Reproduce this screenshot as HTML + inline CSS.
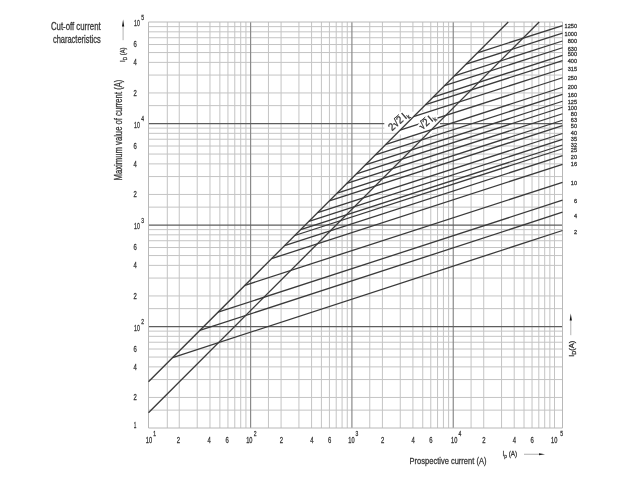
<!DOCTYPE html>
<html><head><meta charset="utf-8"><style>
html,body{margin:0;padding:0;background:#fff;}
svg{display:block;}
text{font-family:"Liberation Sans",sans-serif;stroke:#3a3a3a;stroke-width:0.3px;}
</style></head><body>
<svg width="640" height="480" viewBox="0 0 640 480">
<rect width="640" height="480" fill="#fff"/>
<line x1="167.30" y1="22.00" x2="167.30" y2="428.00" stroke="#c4c4c4" stroke-width="1.0"/>
<line x1="179.24" y1="22.00" x2="179.24" y2="428.00" stroke="#c4c4c4" stroke-width="1.0"/>
<line x1="197.21" y1="22.00" x2="197.21" y2="428.00" stroke="#c4c4c4" stroke-width="1.0"/>
<line x1="209.97" y1="22.00" x2="209.97" y2="428.00" stroke="#c4c4c4" stroke-width="1.0"/>
<line x1="219.86" y1="22.00" x2="219.86" y2="428.00" stroke="#c4c4c4" stroke-width="1.0"/>
<line x1="227.95" y1="22.00" x2="227.95" y2="428.00" stroke="#c4c4c4" stroke-width="1.0"/>
<line x1="234.78" y1="22.00" x2="234.78" y2="428.00" stroke="#c4c4c4" stroke-width="1.0"/>
<line x1="240.71" y1="22.00" x2="240.71" y2="428.00" stroke="#c4c4c4" stroke-width="1.0"/>
<line x1="245.93" y1="22.00" x2="245.93" y2="428.00" stroke="#c4c4c4" stroke-width="1.0"/>
<line x1="268.44" y1="22.00" x2="268.44" y2="428.00" stroke="#c4c4c4" stroke-width="1.0"/>
<line x1="281.09" y1="22.00" x2="281.09" y2="428.00" stroke="#c4c4c4" stroke-width="1.0"/>
<line x1="298.93" y1="22.00" x2="298.93" y2="428.00" stroke="#c4c4c4" stroke-width="1.0"/>
<line x1="311.59" y1="22.00" x2="311.59" y2="428.00" stroke="#c4c4c4" stroke-width="1.0"/>
<line x1="321.41" y1="22.00" x2="321.41" y2="428.00" stroke="#c4c4c4" stroke-width="1.0"/>
<line x1="329.43" y1="22.00" x2="329.43" y2="428.00" stroke="#c4c4c4" stroke-width="1.0"/>
<line x1="336.21" y1="22.00" x2="336.21" y2="428.00" stroke="#c4c4c4" stroke-width="1.0"/>
<line x1="342.08" y1="22.00" x2="342.08" y2="428.00" stroke="#c4c4c4" stroke-width="1.0"/>
<line x1="347.26" y1="22.00" x2="347.26" y2="428.00" stroke="#c4c4c4" stroke-width="1.0"/>
<line x1="369.75" y1="22.00" x2="369.75" y2="428.00" stroke="#c4c4c4" stroke-width="1.0"/>
<line x1="382.41" y1="22.00" x2="382.41" y2="428.00" stroke="#c4c4c4" stroke-width="1.0"/>
<line x1="400.26" y1="22.00" x2="400.26" y2="428.00" stroke="#c4c4c4" stroke-width="1.0"/>
<line x1="412.92" y1="22.00" x2="412.92" y2="428.00" stroke="#c4c4c4" stroke-width="1.0"/>
<line x1="422.74" y1="22.00" x2="422.74" y2="428.00" stroke="#c4c4c4" stroke-width="1.0"/>
<line x1="430.77" y1="22.00" x2="430.77" y2="428.00" stroke="#c4c4c4" stroke-width="1.0"/>
<line x1="437.55" y1="22.00" x2="437.55" y2="428.00" stroke="#c4c4c4" stroke-width="1.0"/>
<line x1="443.43" y1="22.00" x2="443.43" y2="428.00" stroke="#c4c4c4" stroke-width="1.0"/>
<line x1="448.61" y1="22.00" x2="448.61" y2="428.00" stroke="#c4c4c4" stroke-width="1.0"/>
<line x1="471.08" y1="22.00" x2="471.08" y2="428.00" stroke="#c4c4c4" stroke-width="1.0"/>
<line x1="483.73" y1="22.00" x2="483.73" y2="428.00" stroke="#c4c4c4" stroke-width="1.0"/>
<line x1="501.56" y1="22.00" x2="501.56" y2="428.00" stroke="#c4c4c4" stroke-width="1.0"/>
<line x1="514.21" y1="22.00" x2="514.21" y2="428.00" stroke="#c4c4c4" stroke-width="1.0"/>
<line x1="524.02" y1="22.00" x2="524.02" y2="428.00" stroke="#c4c4c4" stroke-width="1.0"/>
<line x1="532.04" y1="22.00" x2="532.04" y2="428.00" stroke="#c4c4c4" stroke-width="1.0"/>
<line x1="538.82" y1="22.00" x2="538.82" y2="428.00" stroke="#c4c4c4" stroke-width="1.0"/>
<line x1="544.69" y1="22.00" x2="544.69" y2="428.00" stroke="#c4c4c4" stroke-width="1.0"/>
<line x1="549.87" y1="22.00" x2="549.87" y2="428.00" stroke="#c4c4c4" stroke-width="1.0"/>
<line x1="148.50" y1="410.13" x2="562.50" y2="410.13" stroke="#c4c4c4" stroke-width="1.0"/>
<line x1="148.50" y1="397.45" x2="562.50" y2="397.45" stroke="#c4c4c4" stroke-width="1.0"/>
<line x1="148.50" y1="379.57" x2="562.50" y2="379.57" stroke="#c4c4c4" stroke-width="1.0"/>
<line x1="148.50" y1="366.89" x2="562.50" y2="366.89" stroke="#c4c4c4" stroke-width="1.0"/>
<line x1="148.50" y1="357.05" x2="562.50" y2="357.05" stroke="#c4c4c4" stroke-width="1.0"/>
<line x1="148.50" y1="349.02" x2="562.50" y2="349.02" stroke="#c4c4c4" stroke-width="1.0"/>
<line x1="148.50" y1="342.22" x2="562.50" y2="342.22" stroke="#c4c4c4" stroke-width="1.0"/>
<line x1="148.50" y1="336.34" x2="562.50" y2="336.34" stroke="#c4c4c4" stroke-width="1.0"/>
<line x1="148.50" y1="331.14" x2="562.50" y2="331.14" stroke="#c4c4c4" stroke-width="1.0"/>
<line x1="148.50" y1="308.63" x2="562.50" y2="308.63" stroke="#c4c4c4" stroke-width="1.0"/>
<line x1="148.50" y1="295.95" x2="562.50" y2="295.95" stroke="#c4c4c4" stroke-width="1.0"/>
<line x1="148.50" y1="278.07" x2="562.50" y2="278.07" stroke="#c4c4c4" stroke-width="1.0"/>
<line x1="148.50" y1="265.39" x2="562.50" y2="265.39" stroke="#c4c4c4" stroke-width="1.0"/>
<line x1="148.50" y1="255.55" x2="562.50" y2="255.55" stroke="#c4c4c4" stroke-width="1.0"/>
<line x1="148.50" y1="247.52" x2="562.50" y2="247.52" stroke="#c4c4c4" stroke-width="1.0"/>
<line x1="148.50" y1="240.72" x2="562.50" y2="240.72" stroke="#c4c4c4" stroke-width="1.0"/>
<line x1="148.50" y1="234.84" x2="562.50" y2="234.84" stroke="#c4c4c4" stroke-width="1.0"/>
<line x1="148.50" y1="229.64" x2="562.50" y2="229.64" stroke="#c4c4c4" stroke-width="1.0"/>
<line x1="148.50" y1="207.13" x2="562.50" y2="207.13" stroke="#c4c4c4" stroke-width="1.0"/>
<line x1="148.50" y1="194.45" x2="562.50" y2="194.45" stroke="#c4c4c4" stroke-width="1.0"/>
<line x1="148.50" y1="176.57" x2="562.50" y2="176.57" stroke="#c4c4c4" stroke-width="1.0"/>
<line x1="148.50" y1="163.89" x2="562.50" y2="163.89" stroke="#c4c4c4" stroke-width="1.0"/>
<line x1="148.50" y1="154.05" x2="562.50" y2="154.05" stroke="#c4c4c4" stroke-width="1.0"/>
<line x1="148.50" y1="146.02" x2="562.50" y2="146.02" stroke="#c4c4c4" stroke-width="1.0"/>
<line x1="148.50" y1="139.22" x2="562.50" y2="139.22" stroke="#c4c4c4" stroke-width="1.0"/>
<line x1="148.50" y1="133.34" x2="562.50" y2="133.34" stroke="#c4c4c4" stroke-width="1.0"/>
<line x1="148.50" y1="128.14" x2="562.50" y2="128.14" stroke="#c4c4c4" stroke-width="1.0"/>
<line x1="148.50" y1="105.63" x2="562.50" y2="105.63" stroke="#c4c4c4" stroke-width="1.0"/>
<line x1="148.50" y1="92.95" x2="562.50" y2="92.95" stroke="#c4c4c4" stroke-width="1.0"/>
<line x1="148.50" y1="75.07" x2="562.50" y2="75.07" stroke="#c4c4c4" stroke-width="1.0"/>
<line x1="148.50" y1="62.39" x2="562.50" y2="62.39" stroke="#c4c4c4" stroke-width="1.0"/>
<line x1="148.50" y1="52.55" x2="562.50" y2="52.55" stroke="#c4c4c4" stroke-width="1.0"/>
<line x1="148.50" y1="44.52" x2="562.50" y2="44.52" stroke="#c4c4c4" stroke-width="1.0"/>
<line x1="148.50" y1="37.72" x2="562.50" y2="37.72" stroke="#c4c4c4" stroke-width="1.0"/>
<line x1="148.50" y1="31.84" x2="562.50" y2="31.84" stroke="#c4c4c4" stroke-width="1.0"/>
<line x1="148.50" y1="26.64" x2="562.50" y2="26.64" stroke="#c4c4c4" stroke-width="1.0"/>
<line x1="554.50" y1="22.00" x2="554.50" y2="428.00" stroke="#c4c4c4" stroke-width="1.0"/>
<line x1="250.60" y1="22.00" x2="250.60" y2="428.00" stroke="#8a8a8a" stroke-width="1.2"/>
<line x1="351.90" y1="22.00" x2="351.90" y2="428.00" stroke="#8a8a8a" stroke-width="1.2"/>
<line x1="453.25" y1="22.00" x2="453.25" y2="428.00" stroke="#8a8a8a" stroke-width="1.2"/>
<line x1="148.50" y1="326.50" x2="562.50" y2="326.50" stroke="#5e5e5e" stroke-width="1.25"/>
<line x1="148.50" y1="225.00" x2="562.50" y2="225.00" stroke="#5e5e5e" stroke-width="1.25"/>
<line x1="148.50" y1="123.50" x2="562.50" y2="123.50" stroke="#5e5e5e" stroke-width="1.25"/>
<line x1="148.50" y1="22.00" x2="148.50" y2="428.00" stroke="#b8b8b8" stroke-width="1.0"/>
<line x1="562.50" y1="22.00" x2="562.50" y2="428.00" stroke="#b8b8b8" stroke-width="1.0"/>
<line x1="148.50" y1="22.00" x2="562.50" y2="22.00" stroke="#b8b8b8" stroke-width="1.0"/>
<line x1="148.50" y1="428.00" x2="562.50" y2="428.00" stroke="#b8b8b8" stroke-width="1.0"/>

<polygon fill="#fff" points="384.3,120.5 394,111.8 433,111.8 440,116.5 440,124.5 431,134.6 397,134.6 399.5,130.8 384.3,130.8"/>

<g stroke="#3a3a3a" stroke-width="1.3"><line x1="477.43" y1="52.82" x2="562.50" y2="25.60"/>
<line x1="466.11" y1="64.14" x2="562.50" y2="33.10"/>
<line x1="454.46" y1="75.79" x2="562.50" y2="41.00"/>
<line x1="444.51" y1="85.74" x2="562.50" y2="47.75"/>
<line x1="433.22" y1="97.03" x2="562.50" y2="55.40"/>
<line x1="425.55" y1="104.70" x2="562.50" y2="60.60"/>
<line x1="413.53" y1="116.72" x2="562.50" y2="68.75"/>
<line x1="400.02" y1="130.23" x2="562.50" y2="77.75"/>
<line x1="385.99" y1="144.26" x2="562.50" y2="87.25"/>
<line x1="375.42" y1="154.83" x2="562.50" y2="94.40"/>
<line x1="365.31" y1="164.94" x2="562.50" y2="101.25"/>
<line x1="356.44" y1="173.81" x2="562.50" y2="107.25"/>
<line x1="346.84" y1="183.41" x2="562.50" y2="113.75"/>
<line x1="337.24" y1="193.01" x2="562.50" y2="120.25"/>
<line x1="329.34" y1="200.91" x2="562.50" y2="125.60"/>
<line x1="317.67" y1="212.58" x2="562.50" y2="133.50"/>
<line x1="308.95" y1="221.30" x2="562.50" y2="139.40"/>
<line x1="300.68" y1="229.57" x2="562.50" y2="145.00"/>
<line x1="294.75" y1="235.50" x2="562.50" y2="148.75"/>
<line x1="284.62" y1="245.63" x2="562.50" y2="155.60"/>
<line x1="271.60" y1="258.65" x2="562.50" y2="164.40"/>
<line x1="244.97" y1="285.28" x2="562.50" y2="182.40"/>
<line x1="218.13" y1="312.12" x2="562.50" y2="200.20"/>
<line x1="199.81" y1="330.44" x2="562.50" y2="212.20"/>
<line x1="172.66" y1="357.59" x2="562.50" y2="230.50"/></g>

<polygon fill="#fff" points="417.3,125.6 426,115.2 437.3,117.2 437.8,121 430,129 420,129.2"/>

<g stroke="#3a3a3a" stroke-width="1.3"><line x1="148.5" y1="381.75" x2="508.25" y2="22"/><line x1="148.5" y1="412.70" x2="539.20" y2="22"/></g>
<g transform="translate(392 131.2) rotate(-41) scale(0.9 1)" fill="#333" font-size="10.6"><text x="0.00" y="0">2</text><text x="5.89" y="0">√</text><text x="11.71" y="0">2</text><text x="19.73" y="0">I</text><text x="22.91" y="2.12" font-size="6.36">k</text><line x1="10.88" y1="-8.06" x2="18.07" y2="-8.06" stroke="#333" stroke-width="0.9"/></g>
<g transform="translate(422.3 130.3) rotate(-41) scale(0.9 1)" fill="#333" font-size="10.6"><text x="0.00" y="0">√</text><text x="5.82" y="0">2</text><text x="13.83" y="0">I</text><text x="17.01" y="2.12" font-size="6.36">k</text><line x1="4.98" y1="-8.06" x2="12.18" y2="-8.06" stroke="#333" stroke-width="0.9"/></g>
<g fill="#333"><text x="577.00" y="27.80" font-size="6.2" text-anchor="end" textLength="12.40" lengthAdjust="spacingAndGlyphs">1250</text>
<text x="577.00" y="35.60" font-size="6.2" text-anchor="end" textLength="12.40" lengthAdjust="spacingAndGlyphs">1000</text>
<text x="577.00" y="43.20" font-size="6.2" text-anchor="end" textLength="9.30" lengthAdjust="spacingAndGlyphs">800</text>
<text x="577.00" y="50.70" font-size="6.2" text-anchor="end" textLength="9.30" lengthAdjust="spacingAndGlyphs">630</text>
<text x="577.00" y="56.40" font-size="6.2" text-anchor="end" textLength="9.30" lengthAdjust="spacingAndGlyphs">500</text>
<text x="577.00" y="62.60" font-size="6.2" text-anchor="end" textLength="9.30" lengthAdjust="spacingAndGlyphs">400</text>
<text x="577.00" y="71.20" font-size="6.2" text-anchor="end" textLength="9.30" lengthAdjust="spacingAndGlyphs">315</text>
<text x="577.00" y="80.20" font-size="6.2" text-anchor="end" textLength="9.30" lengthAdjust="spacingAndGlyphs">250</text>
<text x="577.00" y="89.20" font-size="6.2" text-anchor="end" textLength="9.30" lengthAdjust="spacingAndGlyphs">200</text>
<text x="577.00" y="97.00" font-size="6.2" text-anchor="end" textLength="9.30" lengthAdjust="spacingAndGlyphs">160</text>
<text x="577.00" y="103.80" font-size="6.2" text-anchor="end" textLength="9.30" lengthAdjust="spacingAndGlyphs">125</text>
<text x="577.00" y="109.60" font-size="6.2" text-anchor="end" textLength="9.30" lengthAdjust="spacingAndGlyphs">100</text>
<text x="577.00" y="115.95" font-size="6.2" text-anchor="end" textLength="6.20" lengthAdjust="spacingAndGlyphs">80</text>
<text x="577.00" y="121.95" font-size="6.2" text-anchor="end" textLength="6.20" lengthAdjust="spacingAndGlyphs">63</text>
<text x="577.00" y="128.20" font-size="6.2" text-anchor="end" textLength="6.20" lengthAdjust="spacingAndGlyphs">50</text>
<text x="577.00" y="134.50" font-size="6.2" text-anchor="end" textLength="6.20" lengthAdjust="spacingAndGlyphs">40</text>
<text x="577.00" y="140.70" font-size="6.2" text-anchor="end" textLength="6.20" lengthAdjust="spacingAndGlyphs">35</text>
<text x="577.00" y="146.95" font-size="6.2" text-anchor="end" textLength="6.20" lengthAdjust="spacingAndGlyphs">32</text>
<text x="577.00" y="152.45" font-size="6.2" text-anchor="end" textLength="6.20" lengthAdjust="spacingAndGlyphs">25</text>
<text x="577.00" y="159.10" font-size="6.2" text-anchor="end" textLength="6.20" lengthAdjust="spacingAndGlyphs">20</text>
<text x="577.00" y="166.40" font-size="6.2" text-anchor="end" textLength="6.20" lengthAdjust="spacingAndGlyphs">16</text>
<text x="577.00" y="185.10" font-size="6.2" text-anchor="end" textLength="6.20" lengthAdjust="spacingAndGlyphs">10</text>
<text x="577.00" y="202.90" font-size="6.2" text-anchor="end" textLength="3.10" lengthAdjust="spacingAndGlyphs">6</text>
<text x="577.00" y="217.90" font-size="6.2" text-anchor="end" textLength="3.10" lengthAdjust="spacingAndGlyphs">4</text>
<text x="577.00" y="233.70" font-size="6.2" text-anchor="end" textLength="3.10" lengthAdjust="spacingAndGlyphs">2</text></g>
<g fill="#333"><text x="148.90" y="442.80" font-size="8.2" text-anchor="middle" textLength="6.30" lengthAdjust="spacingAndGlyphs">10</text>
<text x="153.20" y="435.80" font-size="7.4" textLength="2.80" lengthAdjust="spacingAndGlyphs">1</text>
<text x="178.44" y="442.80" font-size="8.2" text-anchor="middle" textLength="3.30" lengthAdjust="spacingAndGlyphs">2</text>
<text x="209.17" y="442.80" font-size="8.2" text-anchor="middle" textLength="3.30" lengthAdjust="spacingAndGlyphs">4</text>
<text x="227.15" y="442.80" font-size="8.2" text-anchor="middle" textLength="3.30" lengthAdjust="spacingAndGlyphs">6</text>
<text x="249.30" y="442.80" font-size="8.2" text-anchor="middle" textLength="6.30" lengthAdjust="spacingAndGlyphs">10</text>
<text x="253.70" y="435.80" font-size="7.4" textLength="2.80" lengthAdjust="spacingAndGlyphs">2</text>
<text x="281.29" y="442.80" font-size="8.2" text-anchor="middle" textLength="3.30" lengthAdjust="spacingAndGlyphs">2</text>
<text x="311.79" y="442.80" font-size="8.2" text-anchor="middle" textLength="3.30" lengthAdjust="spacingAndGlyphs">4</text>
<text x="329.63" y="442.80" font-size="8.2" text-anchor="middle" textLength="3.30" lengthAdjust="spacingAndGlyphs">6</text>
<text x="351.40" y="442.80" font-size="8.2" text-anchor="middle" textLength="6.30" lengthAdjust="spacingAndGlyphs">10</text>
<text x="355.45" y="435.80" font-size="7.4" textLength="2.80" lengthAdjust="spacingAndGlyphs">3</text>
<text x="382.61" y="442.80" font-size="8.2" text-anchor="middle" textLength="3.30" lengthAdjust="spacingAndGlyphs">2</text>
<text x="413.12" y="442.80" font-size="8.2" text-anchor="middle" textLength="3.30" lengthAdjust="spacingAndGlyphs">4</text>
<text x="430.97" y="442.80" font-size="8.2" text-anchor="middle" textLength="3.30" lengthAdjust="spacingAndGlyphs">6</text>
<text x="454.25" y="442.80" font-size="8.2" text-anchor="middle" textLength="6.30" lengthAdjust="spacingAndGlyphs">10</text>
<text x="458.45" y="435.80" font-size="7.4" textLength="2.80" lengthAdjust="spacingAndGlyphs">4</text>
<text x="483.93" y="442.80" font-size="8.2" text-anchor="middle" textLength="3.30" lengthAdjust="spacingAndGlyphs">2</text>
<text x="514.41" y="442.80" font-size="8.2" text-anchor="middle" textLength="3.30" lengthAdjust="spacingAndGlyphs">4</text>
<text x="532.24" y="442.80" font-size="8.2" text-anchor="middle" textLength="3.30" lengthAdjust="spacingAndGlyphs">6</text>
<text x="554.25" y="442.80" font-size="8.2" text-anchor="middle" textLength="6.30" lengthAdjust="spacingAndGlyphs">10</text>
<text x="560.20" y="435.80" font-size="7.4" textLength="2.80" lengthAdjust="spacingAndGlyphs">5</text>
<text x="139.90" y="330.90" font-size="8.2" text-anchor="end" textLength="5.80" lengthAdjust="spacingAndGlyphs">10</text>
<text x="141.30" y="324.40" font-size="7.4" textLength="2.80" lengthAdjust="spacingAndGlyphs">2</text>
<text x="139.90" y="229.40" font-size="8.2" text-anchor="end" textLength="5.80" lengthAdjust="spacingAndGlyphs">10</text>
<text x="141.30" y="222.90" font-size="7.4" textLength="2.80" lengthAdjust="spacingAndGlyphs">3</text>
<text x="139.90" y="127.90" font-size="8.2" text-anchor="end" textLength="5.80" lengthAdjust="spacingAndGlyphs">10</text>
<text x="141.30" y="121.40" font-size="7.4" textLength="2.80" lengthAdjust="spacingAndGlyphs">4</text>
<text x="139.90" y="26.40" font-size="8.2" text-anchor="end" textLength="5.80" lengthAdjust="spacingAndGlyphs">10</text>
<text x="141.30" y="19.90" font-size="7.4" textLength="2.80" lengthAdjust="spacingAndGlyphs">5</text>
<text x="135.10" y="400.30" font-size="8.2" text-anchor="middle" textLength="3.30" lengthAdjust="spacingAndGlyphs">2</text>
<text x="135.10" y="369.74" font-size="8.2" text-anchor="middle" textLength="3.30" lengthAdjust="spacingAndGlyphs">4</text>
<text x="135.10" y="351.87" font-size="8.2" text-anchor="middle" textLength="3.30" lengthAdjust="spacingAndGlyphs">6</text>
<text x="135.10" y="298.80" font-size="8.2" text-anchor="middle" textLength="3.30" lengthAdjust="spacingAndGlyphs">2</text>
<text x="135.10" y="268.24" font-size="8.2" text-anchor="middle" textLength="3.30" lengthAdjust="spacingAndGlyphs">4</text>
<text x="135.10" y="250.37" font-size="8.2" text-anchor="middle" textLength="3.30" lengthAdjust="spacingAndGlyphs">6</text>
<text x="135.10" y="197.30" font-size="8.2" text-anchor="middle" textLength="3.30" lengthAdjust="spacingAndGlyphs">2</text>
<text x="135.10" y="166.74" font-size="8.2" text-anchor="middle" textLength="3.30" lengthAdjust="spacingAndGlyphs">4</text>
<text x="135.10" y="148.87" font-size="8.2" text-anchor="middle" textLength="3.30" lengthAdjust="spacingAndGlyphs">6</text>
<text x="135.10" y="95.80" font-size="8.2" text-anchor="middle" textLength="3.30" lengthAdjust="spacingAndGlyphs">2</text>
<text x="135.10" y="65.24" font-size="8.2" text-anchor="middle" textLength="3.30" lengthAdjust="spacingAndGlyphs">4</text>
<text x="135.10" y="47.37" font-size="8.2" text-anchor="middle" textLength="3.30" lengthAdjust="spacingAndGlyphs">6</text>
<text x="135.10" y="427.50" font-size="8.2" text-anchor="middle" textLength="2.60" lengthAdjust="spacingAndGlyphs">1</text></g>

<g>
<line x1="123.1" y1="25" x2="123.1" y2="40.2" stroke="#aaa" stroke-width="0.9"/>
<polygon points="122.0,26.4 124.2,26.4 123.1,19.6" fill="#111"/>
<line x1="570.8" y1="319" x2="570.8" y2="335.2" stroke="#aaa" stroke-width="0.9"/>
<polygon points="569.7,320.4 571.9,320.4 570.8,313.6" fill="#111"/>
<line x1="524" y1="454.25" x2="540" y2="454.25" stroke="#9a9a9a" stroke-width="0.8"/>
<polygon points="539,453.35 539,455.15 545,454.25" fill="#1a1a1a"/>
</g>
<g fill="#333" font-size="7.6">
<text transform="translate(125.4 61.9) rotate(-90)" textLength="14.4" lengthAdjust="spacingAndGlyphs">I<tspan font-size="6.2" dy="1.6">D</tspan><tspan dy="-1.6"> (A)</tspan></text>
<text transform="translate(574.0 356.7) rotate(-90)" textLength="15.9" lengthAdjust="spacingAndGlyphs">I<tspan font-size="5.6" dy="1.6">D</tspan><tspan dy="-1.6">(A)</tspan></text>
<text x="502.6" y="455.6" textLength="14.6" lengthAdjust="spacingAndGlyphs">I<tspan font-size="5.6" dy="2.2">p</tspan><tspan dy="-2.2"> (A)</tspan></text>
</g>
<g fill="#333" font-size="10.3" style="stroke-width:0.45px">
<text x="100.7" y="29.8" text-anchor="end" textLength="49.8" lengthAdjust="spacingAndGlyphs">Cut-off current</text>
<text x="100.7" y="42.9" text-anchor="end" textLength="47.8" lengthAdjust="spacingAndGlyphs">characteristics</text>
<text transform="translate(122.3 180.4) rotate(-90)" textLength="100.8" lengthAdjust="spacingAndGlyphs">Maximum value of current (A)</text>
<text x="409.6" y="464.4" font-size="9.8" textLength="76.8" lengthAdjust="spacingAndGlyphs">Prospective current (A)</text>
</g>

</svg>
</body></html>
